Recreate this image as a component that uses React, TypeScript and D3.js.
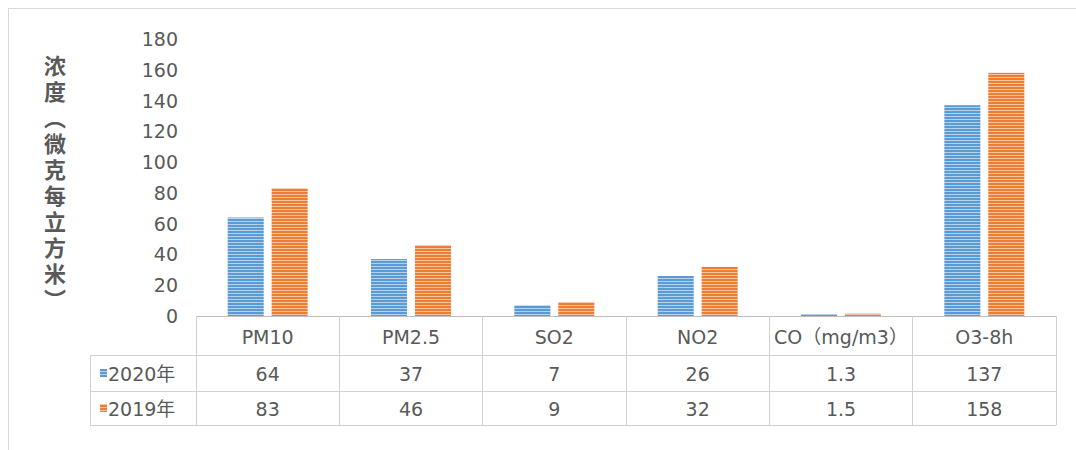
import React from "react";
import * as d3 from "d3";

const categories = ["PM10", "PM2.5", "SO2", "NO2", "CO（mg/m3）", "O3-8h"];
const values2020 = [64, 37, 7, 26, 1.3, 137];
const values2019 = [83, 46, 9, 32, 1.5, 158];
const seriesNames = ["2020年", "2019年"];
const yTicks = [0, 20, 40, 60, 80, 100, 120, 140, 160, 180];
const yTitle = "浓度（微克每立方米）";

const colors = ["#5b9bd5", "#ed7d31"];
const textColor = "#595959";
const lineColor = "#d0d0d0";
const font = "'DejaVu Sans', 'Noto Sans CJK SC', sans-serif";

const W = 1076;
const H = 450;
const plot = { left: 196, right: 1056, top: 39, bottom: 316 };
const rowBottoms = [355, 391, 425];
const legendLeft = 90;

export default function App() {
  const x = d3.scaleBand<string>().domain(categories).range([plot.left, plot.right]);
  const groupW = 80;
  const x1 = d3
    .scaleBand<string>()
    .domain(seriesNames)
    .range([0, groupW])
    .paddingInner(0.18);
  const y = d3.scaleLinear().domain([0, 180]).range([plot.bottom, plot.top]);

  const series = [values2020, values2019];
  const rows = [
    { top: plot.bottom, bottom: rowBottoms[0] },
    { top: rowBottoms[0], bottom: rowBottoms[1] },
    { top: rowBottoms[1], bottom: rowBottoms[2] },
  ];

  return (
    <svg
      width={W}
      height={H}
      style={{ position: "absolute", left: 0, top: 0, background: "#fff" }}
    >
      <defs>
        {colors.map((c, i) => (
          <pattern
            key={i}
            id={`stripe${i}`}
            patternUnits="userSpaceOnUse"
            width={4}
            height={3}
          >
            <rect width={4} height={3} fill={c} />
            <rect y={2} width={4} height={1} fill="#fff" opacity={0.55} />
          </pattern>
        ))}
      </defs>

      {/* chart frame */}
      <rect x={8.5} y={8.5} width={W + 10} height={H + 10} fill="none" stroke="#d9d9d9" />

      {/* y axis title */}
      <text
        x={55}
        y={55}
        fill={textColor}
        fontFamily="'Noto Sans CJK SC', sans-serif"
        fontWeight="bold"
        fontSize={22}
        letterSpacing={4}
        style={{ writingMode: "vertical-rl" }}
      >
        {yTitle}
      </text>

      {/* y tick labels */}
      {yTicks.map((t) => (
        <text
          key={t}
          x={178}
          y={y(t)}
          textAnchor="end"
          dominantBaseline="central"
          fill={textColor}
          fontFamily={font}
          fontSize={19}
        >
          {t}
        </text>
      ))}

      {/* bars */}
      {categories.map((cat, ci) => {
        const gx = (x(cat) as number) + (x.bandwidth() - groupW) / 2;
        return series.map((vals, si) => (
          <rect
            key={`${ci}-${si}`}
            x={gx + (x1(seriesNames[si]) as number)}
            y={y(vals[ci])}
            width={x1.bandwidth()}
            height={plot.bottom - y(vals[ci])}
            fill={`url(#stripe${si})`}
          />
        ));
      })}

      {/* data table */}
      <g stroke={lineColor} strokeWidth={1} shapeRendering="crispEdges">
        <line x1={plot.left} x2={plot.right} y1={plot.bottom} y2={plot.bottom} stroke="#bfbfbf" />
        {rowBottoms.map((r) => (
          <line key={r} x1={legendLeft} x2={plot.right} y1={r} y2={r} />
        ))}
        <line x1={legendLeft} x2={legendLeft} y1={rowBottoms[0]} y2={rowBottoms[2]} />
        {categories.map((cat) => (
          <line
            key={cat}
            x1={x(cat) as number}
            x2={x(cat) as number}
            y1={plot.bottom}
            y2={rowBottoms[2]}
          />
        ))}
        <line x1={plot.right} x2={plot.right} y1={plot.bottom} y2={rowBottoms[2]} />
      </g>

      {categories.map((cat, ci) => {
        const cx = (x(cat) as number) + x.bandwidth() / 2;
        const cells = [cat, String(values2020[ci]), String(values2019[ci])];
        return cells.map((c, ri) => (
          <text
            key={`${ci}-${ri}`}
            x={cx}
            y={(rows[ri].top + rows[ri].bottom) / 2 + 1}
            textAnchor="middle"
            dominantBaseline="central"
            fill={textColor}
            fontFamily={font}
            fontSize={19}
          >
            {c}
          </text>
        ));
      })}

      {/* legend keys in table */}
      {seriesNames.map((name, si) => {
        const cy = (rows[si + 1].top + rows[si + 1].bottom) / 2;
        return (
          <g key={name}>
            <rect x={100} y={cy - 4} width={7} height={8} fill={`url(#stripe${si})`} />
            <text
              x={108}
              y={cy + 1}
              dominantBaseline="central"
              fill={textColor}
              fontFamily={font}
              fontSize={19}
            >
              {name}
            </text>
          </g>
        );
      })}
    </svg>
  );
}
